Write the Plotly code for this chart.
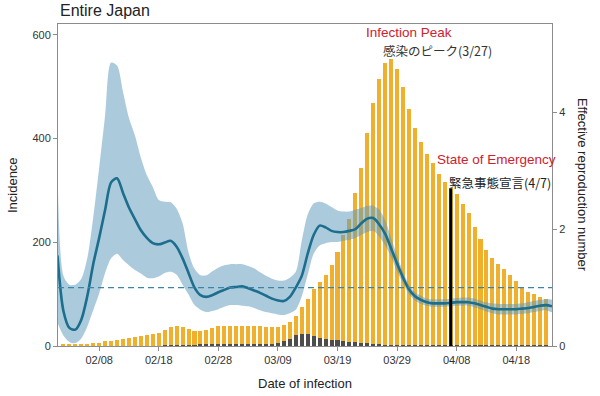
import plotly.graph_objects as go
import pandas as pd

# ---------------- data ----------------
bar_dates = pd.date_range("2020-02-02", "2020-04-23", freq="D")
incidence_total = [
    3, 3, 2, 2, 3, 5, 6, 9, 10, 12, 13, 15, 17, 19, 21, 23, 26, 30, 37, 39,
    37, 32, 29, 29, 31, 35, 38, 38,                      # Feb 2 - Feb 29
    38, 38, 39, 39, 39, 38, 37, 37, 37, 40, 46, 57, 75, 91, 109, 124, 136,
    156, 181, 214, 244, 295, 344, 410, 468, 514, 546, 553, 535, 500, 458,  # Mar
    421, 394, 371, 352, 331, 317, 305, 294, 274, 256, 230, 207, 186, 169,
    158, 149, 136, 125, 114, 104, 100, 95, 90             # Apr 1 - Apr 23
]
incidence_other = [
    0, 0, 0, 0, 0, 0, 0, 0, 0, 0, 0, 0, 0, 0, 0, 0, 0, 1, 1, 1,
    1, 1, 1, 2, 3, 3, 4, 4,
    4, 3, 3, 3, 3, 3, 4, 3, 6, 10, 14, 21, 24, 23, 19, 16, 13,
    11, 11, 9, 8, 7, 6, 5, 3, 2, 1.5, 1, 1, 0.5, 0.5,
    0.3, 0.3, 0.3, 0.3, 0.3, 0.3, 0.3, 0.3, 0.3, 0.3, 0.3, 0.3, 0.3, 0.3,
    0.3, 0.3, 0.3, 0.3, 0.3, 0.3, 0.3, 0.3, 0.3
]

r_dates = pd.date_range("2020-02-01", "2020-04-24", freq="D")
r_mean = [
    1.55, 0.60, 0.31, 0.28, 0.45, 0.85, 1.40, 1.85, 2.33, 2.80,
    2.87, 2.62, 2.37, 2.17, 1.98, 1.85, 1.76, 1.74, 1.77, 1.80,
    1.70, 1.50, 1.25, 1.00, 0.87, 0.84, 0.87, 0.92, 0.96, 1.00,
    1.01, 1.02, 0.99, 0.95, 0.91, 0.86, 0.81, 0.78, 0.77, 0.84,
    1.00, 1.20, 1.58, 1.90, 2.06, 2.03, 1.97, 1.95, 1.95, 1.97,
    2.00, 2.10, 2.18, 2.19, 2.08, 1.92, 1.67, 1.41, 1.17, 0.97,
    0.85, 0.79, 0.75, 0.73, 0.73, 0.73, 0.74, 0.75, 0.75, 0.75,
    0.73, 0.70, 0.67, 0.64, 0.63, 0.63, 0.63, 0.63, 0.64, 0.65,
    0.67, 0.69, 0.70, 0.68
]
r_upper = [
    3.10, 1.20, 1.05, 1.05, 1.15, 1.50, 2.20, 3.05, 3.95, 4.85,
    4.80, 4.35, 3.90, 3.60, 3.22, 2.92, 2.72, 2.50, 2.47, 2.46,
    2.35, 2.10, 1.60, 1.32, 1.21, 1.21, 1.28, 1.34, 1.38, 1.40,
    1.40, 1.40, 1.37, 1.33, 1.26, 1.20, 1.15, 1.12, 1.12, 1.17,
    1.27, 1.80, 2.25, 2.44, 2.47, 2.44, 2.38, 2.32, 2.30, 2.30,
    2.33, 2.36, 2.40, 2.40, 2.33, 2.15, 1.85, 1.55, 1.27, 1.05,
    0.92, 0.86, 0.81, 0.80, 0.80, 0.80, 0.81, 0.82, 0.83, 0.83,
    0.81, 0.78, 0.75, 0.73, 0.72, 0.72, 0.72, 0.72, 0.73, 0.75,
    0.77, 0.79, 0.80, 0.79
]
r_lower = [
    0.40, 0.18, 0.07, 0.05, 0.13, 0.33, 0.61, 0.90, 1.25, 1.50,
    1.58, 1.47, 1.38, 1.30, 1.24, 1.17, 1.16, 1.19, 1.25, 1.27,
    1.22, 1.05, 0.88, 0.70, 0.62, 0.58, 0.60, 0.63, 0.67, 0.70,
    0.70, 0.69, 0.68, 0.65, 0.61, 0.58, 0.56, 0.54, 0.53, 0.56,
    0.62, 0.85, 1.22, 1.58, 1.72, 1.76, 1.78, 1.78, 1.80, 1.82,
    1.85, 1.90, 1.95, 1.97, 1.87, 1.72, 1.52, 1.28, 1.07, 0.89,
    0.78, 0.72, 0.69, 0.67, 0.67, 0.67, 0.68, 0.69, 0.69, 0.69,
    0.66, 0.63, 0.59, 0.56, 0.54, 0.54, 0.54, 0.54, 0.55, 0.56,
    0.58, 0.60, 0.61, 0.58
]

tick_dates = ["2020-02-08", "2020-02-18", "2020-02-28", "2020-03-09",
              "2020-03-19", "2020-03-29", "2020-04-08", "2020-04-18"]
tick_labels = ["02/08", "02/18", "02/28", "03/09",
               "03/19", "03/29", "04/08", "04/18"]
left_ticks = [0, 200, 400, 600]
right_ticks = [0, 2, 4]
R_THRESHOLD = 1
EMERGENCY_DATE = "2020-04-07"
EMERGENCY_TOP = 304

# ---------------- styles ----------------
FONT = "Liberation Sans, Arial, sans-serif"
CJK = "Noto Sans CJK JP, sans-serif"
ORANGE = "#F0B02E"
GREY_BAR = "#4d4d4d"
TEAL = "#1c6e8c"
RIBBON = "rgba(88,152,188,0.5)"
RED = "#d0202e"
AXIS = "#8c8c8c"
DAY_MS = 86400000

fig = go.Figure()
fig.add_trace(go.Bar(x=bar_dates, y=incidence_total, marker_color=ORANGE,
                     marker_line_width=0, width=0.68 * DAY_MS, yaxis="y"))
fig.add_trace(go.Bar(x=bar_dates, y=incidence_other, marker_color=GREY_BAR,
                     marker_line_width=0, width=0.68 * DAY_MS, yaxis="y"))

rx = list(r_dates) + list(r_dates[::-1])
ry = list(r_upper) + list(r_lower[::-1])
fig.add_trace(go.Scatter(x=rx, y=ry, fill="toself", fillcolor=RIBBON,
                         line=dict(width=0, shape="spline", smoothing=0.8),
                         mode="lines", yaxis="y2", hoverinfo="skip"))
fig.add_trace(go.Scatter(x=r_dates, y=r_mean, mode="lines", yaxis="y2",
                         line=dict(color=TEAL, width=2.6, shape="spline", smoothing=0.8)))

fig.add_shape(type="line", xref="paper", yref="y2", x0=0, x1=1,
              y0=R_THRESHOLD, y1=R_THRESHOLD, layer="above",
              line=dict(color="#3a86ab", width=1.3, dash="6px,4px"))
fig.add_shape(type="line", xref="x", yref="y", x0=EMERGENCY_DATE, x1=EMERGENCY_DATE,
              y0=0, y1=EMERGENCY_TOP, layer="above",
              line=dict(color="black", width=3))

ann = [
    dict(text="Entire Japan", x=0.0, y=1.043, xanchor="left", yanchor="middle",
         font=dict(family=FONT, size=16, color="#222")),
    dict(text="Incidence", x=-0.093, y=0.5, textangle=-90, xanchor="center", yanchor="middle",
         font=dict(family=FONT, size=13, color="#222")),
    dict(text="Effective reproduction number", x=1.063, y=0.5, textangle=90,
         xanchor="center", yanchor="middle", font=dict(family=FONT, size=13, color="#222")),
    dict(text="Date of infection", x=0.5, y=-0.115, xanchor="center", yanchor="middle",
         font=dict(family=FONT, size=13, color="#222")),
    dict(text="Infection Peak", x=0.7115, y=0.975, xanchor="center", yanchor="middle",
         font=dict(family=FONT, size=13.5, color=RED)),
    dict(text="感染のピーク(3/27)", x=0.768, y=0.919, xanchor="center", yanchor="middle",
         font=dict(family=CJK, size=12.5, color="#333")),
    dict(text="State of Emergency", x=0.887, y=0.578, xanchor="center", yanchor="middle",
         font=dict(family=FONT, size=13.5, color=RED)),
    dict(text="緊急事態宣言(4/7)", x=0.894, y=0.509, xanchor="center", yanchor="middle",
         font=dict(family=CJK, size=12.5, color="#222")),
]
for a in ann:
    a.update(xref="paper", yref="paper", showarrow=False)

fig.update_layout(
    width=600, height=396,
    margin=dict(l=58, r=48, t=24, b=50),
    paper_bgcolor="white", plot_bgcolor="white",
    showlegend=False, barmode="overlay", bargap=0,
    annotations=ann,
    font=dict(family=FONT, size=11, color="#333"),
    xaxis=dict(type="date", range=["2020-02-01 02:10", "2020-04-24 00:00"],
               tickvals=tick_dates, ticktext=tick_labels,
               showgrid=False, zeroline=False, showline=True, mirror=True,
               linecolor=AXIS, linewidth=1, ticks="outside", ticklen=4,
               tickcolor=AXIS, tickfont=dict(size=11, color="#333")),
    yaxis=dict(range=[0, 621], tickvals=left_ticks, showgrid=False, zeroline=False,
               showline=True, linecolor=AXIS, linewidth=1, ticks="outside",
               ticklen=4, tickcolor=AXIS, tickfont=dict(size=11, color="#333")),
    yaxis2=dict(range=[0, 5.51], tickvals=right_ticks, overlaying="y", side="right",
                showgrid=False, zeroline=False, showline=True, linecolor=AXIS,
                linewidth=1, ticks="outside", ticklen=4, tickcolor=AXIS,
                tickfont=dict(size=11, color="#333")),
)

fig.write_html(
    "out.html",
    config={"displayModeBar": False},
    post_script="document.body.style.margin='0';document.body.style.padding='0';"
                "document.documentElement.style.overflow='hidden';",
)
